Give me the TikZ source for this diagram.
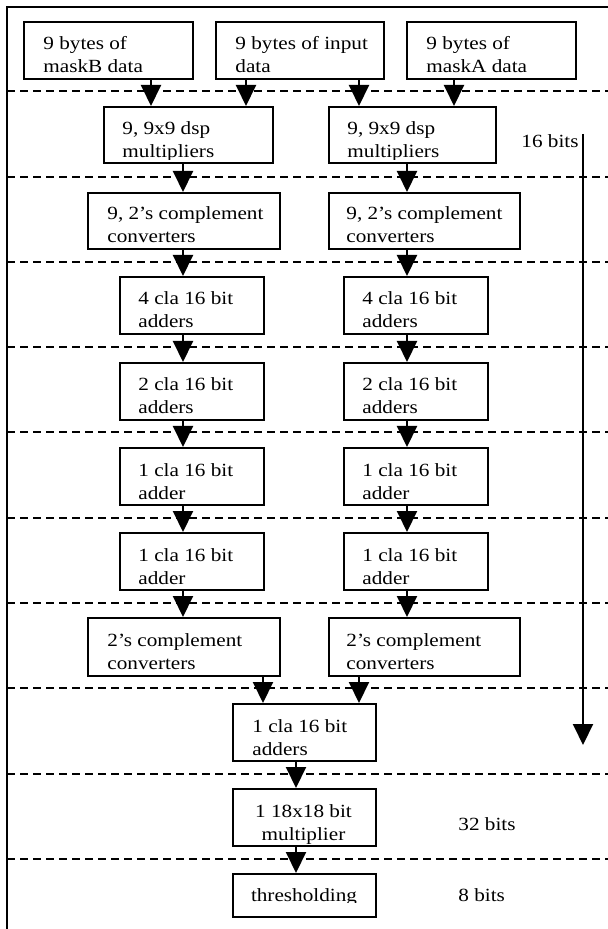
\documentclass[tikz,border=0pt]{standalone}
\usepackage{fontspec}
\usetikzlibrary{arrows.meta}
\newfontfamily\wordfont[FakeStretch=1.14]{Liberation Serif}

\begin{document}
\begin{tikzpicture}[x=0.5pt, y=-0.5pt, >={Triangle[length=10.5pt,width=10pt]},
  blk/.style={draw, line width=1pt, inner sep=0pt, anchor=north west, minimum height=28.5pt},
  lbl/.style={inner sep=0pt, anchor=base west, align=left, font=\wordfont\fontsize{9.3}{11.5}\selectfont},
  divider/.style={line width=0.9pt, dash pattern=on 4pt off 2.5pt},
  flow/.style={->, line width=1pt}]
  \useasboundingbox (0,0) rectangle (608,929);

  % frame and stage dividers
  \draw[line width=1pt] (608,7) -- (7,7) -- (7,929);
  \draw[divider] (7,91) -- (608,91);
  \draw[divider] (7,177) -- (608,177);
  \draw[divider] (7,262) -- (608,262);
  \draw[divider] (7,347) -- (608,347);
  \draw[divider] (7,432) -- (608,432);
  \draw[divider] (7,518) -- (608,518);
  \draw[divider] (7,603) -- (608,603);
  \draw[divider] (7,688) -- (608,688);
  \draw[divider] (7,774) -- (608,774);
  \draw[divider] (7,859) -- (608,859);

  % blocks
  \node[blk, minimum width=84.5pt] (mskB) at (23,21) {};
  \node[blk, minimum width=84pt] (inp) at (215,21) {};
  \node[blk, minimum width=84.5pt] (mskA) at (406,21) {};
  \node[blk, minimum width=84.5pt, minimum height=28pt] (mulL) at (103,106) {};
  \node[blk, minimum width=83.5pt, minimum height=28pt] (mulR) at (328,106) {};
  \node[blk, minimum width=96pt, minimum height=28pt] (cmpL) at (87,192) {};
  \node[blk, minimum width=95.5pt, minimum height=28pt] (cmpR) at (328,192) {};
  \node[blk, minimum width=72pt] (add4L) at (119,276) {};
  \node[blk, minimum width=72pt] (add4R) at (343,276) {};
  \node[blk, minimum width=72pt] (add2L) at (119,362) {};
  \node[blk, minimum width=72pt] (add2R) at (343,362) {};
  \node[blk, minimum width=72pt] (add1L) at (119,447) {};
  \node[blk, minimum width=72pt] (add1R) at (343,447) {};
  \node[blk, minimum width=72pt] (sumL) at (119,532) {};
  \node[blk, minimum width=72pt] (sumR) at (343,532) {};
  \node[blk, minimum width=96pt, minimum height=29pt] (cvtL) at (87,617) {};
  \node[blk, minimum width=95.5pt, minimum height=29pt] (cvtR) at (328,617) {};
  \node[blk, minimum width=71.5pt] (addT) at (232,703) {};
  \node[blk, minimum width=71.5pt] (mul18) at (232,788) {};
  \node[blk, minimum width=71.5pt, minimum height=21.5pt] (thr) at (232,873) {};

  % block texts (anchored on the last line)
  \node[lbl] (mskBt) at (43,73) {9 bytes of\\maskB data};
  \node[lbl] (inpt) at (235,73) {9 bytes of input\\data};
  \node[lbl] (mskAt) at (426,73) {9 bytes of\\maskA data};
  \begin{scope}
    \clip (103,106) rectangle (495,160);
    \node[lbl] (mulLt) at (122,158) {9, 9x9 dsp\\multipliers};
    \node[lbl] (mulRt) at (347,158) {9, 9x9 dsp\\multipliers};
  \end{scope}
  \node[lbl] (cmpLt) at (107,243) {9, 2’s complement\\converters};
  \node[lbl] (cmpRt) at (346,243) {9, 2’s complement\\converters};
  \node[lbl] (add4Lt) at (138,328) {4 cla 16 bit\\adders};
  \node[lbl] (add4Rt) at (362,328) {4 cla 16 bit\\adders};
  \node[lbl] (add2Lt) at (138,414) {2 cla 16 bit\\adders};
  \node[lbl] (add2Rt) at (362,414) {2 cla 16 bit\\adders};
  \node[lbl] (add1Lt) at (138,499) {1 cla 16 bit\\adder};
  \node[lbl] (add1Rt) at (362,499) {1 cla 16 bit\\adder};
  \node[lbl] (sumLt) at (138,584) {1 cla 16 bit\\adder};
  \node[lbl] (sumRt) at (362,584) {1 cla 16 bit\\adder};
  \node[lbl] (cvtLt) at (107,669) {2’s complement\\converters};
  \node[lbl] (cvtRt) at (346,669) {2’s complement\\converters};
  \node[lbl] (addTt) at (252,755) {1 cla 16 bit\\adders};
  \begin{scope}
    \clip (232,788) rectangle (375,843);
    \node[lbl, align=center, anchor=base] (mul18t) at (303.5,840) {1 18x18 bit\\multiplier};
  \end{scope}
  \begin{scope}
    \clip (232,873) rectangle (375,902);
    \node[lbl, anchor=base] (thrt) at (304,901) {thresholding};
  \end{scope}

  % word widths
  \node[lbl, anchor=base east] (b16) at (579,148) {16 bits};
  \node[lbl] (b32) at (458,830) {32 bits};
  \node[lbl] (b8) at (458,901) {8 bits};
  \coordinate (b16top) at (583,134);
  \coordinate (b16end) at (583,745);
  \draw[flow] (b16top) -- (b16end);

  % data flow
  \draw[flow] (mskB.south -| 151,0) -- (mulL.north -| 151,0);
  \draw[flow] (inp.south -| 246,0) -- (mulL.north -| 246,0);
  \draw[flow] (inp.south -| 359,0) -- (mulR.north -| 359,0);
  \draw[flow] (mskA.south -| 454,0) -- (mulR.north -| 454,0);
  \draw[flow] (mulL.south -| 183,0) -- (cmpL.north -| 183,0);
  \draw[flow] (mulR.south -| 407,0) -- (cmpR.north -| 407,0);
  \draw[flow] (cmpL.south -| 183,0) -- (add4L.north -| 183,0);
  \draw[flow] (cmpR.south -| 407,0) -- (add4R.north -| 407,0);
  \draw[flow] (add4L.south -| 183,0) -- (add2L.north -| 183,0);
  \draw[flow] (add4R.south -| 407,0) -- (add2R.north -| 407,0);
  \draw[flow] (add2L.south -| 183,0) -- (add1L.north -| 183,0);
  \draw[flow] (add2R.south -| 407,0) -- (add1R.north -| 407,0);
  \draw[flow] (add1L.south -| 183,0) -- (sumL.north -| 183,0);
  \draw[flow] (add1R.south -| 407,0) -- (sumR.north -| 407,0);
  \draw[flow] (sumL.south -| 183,0) -- (cvtL.north -| 183,0);
  \draw[flow] (sumR.south -| 407,0) -- (cvtR.north -| 407,0);
  \draw[flow] (cvtL.south -| 263,0) -- (addT.north -| 263,0);
  \draw[flow] (cvtR.south -| 359,0) -- (addT.north -| 359,0);
  \draw[flow] (addT.south -| 296,0) -- (mul18.north -| 296,0);
  \draw[flow] (mul18.south -| 296,0) -- (thr.north -| 296,0);
\end{tikzpicture}
\end{document}
